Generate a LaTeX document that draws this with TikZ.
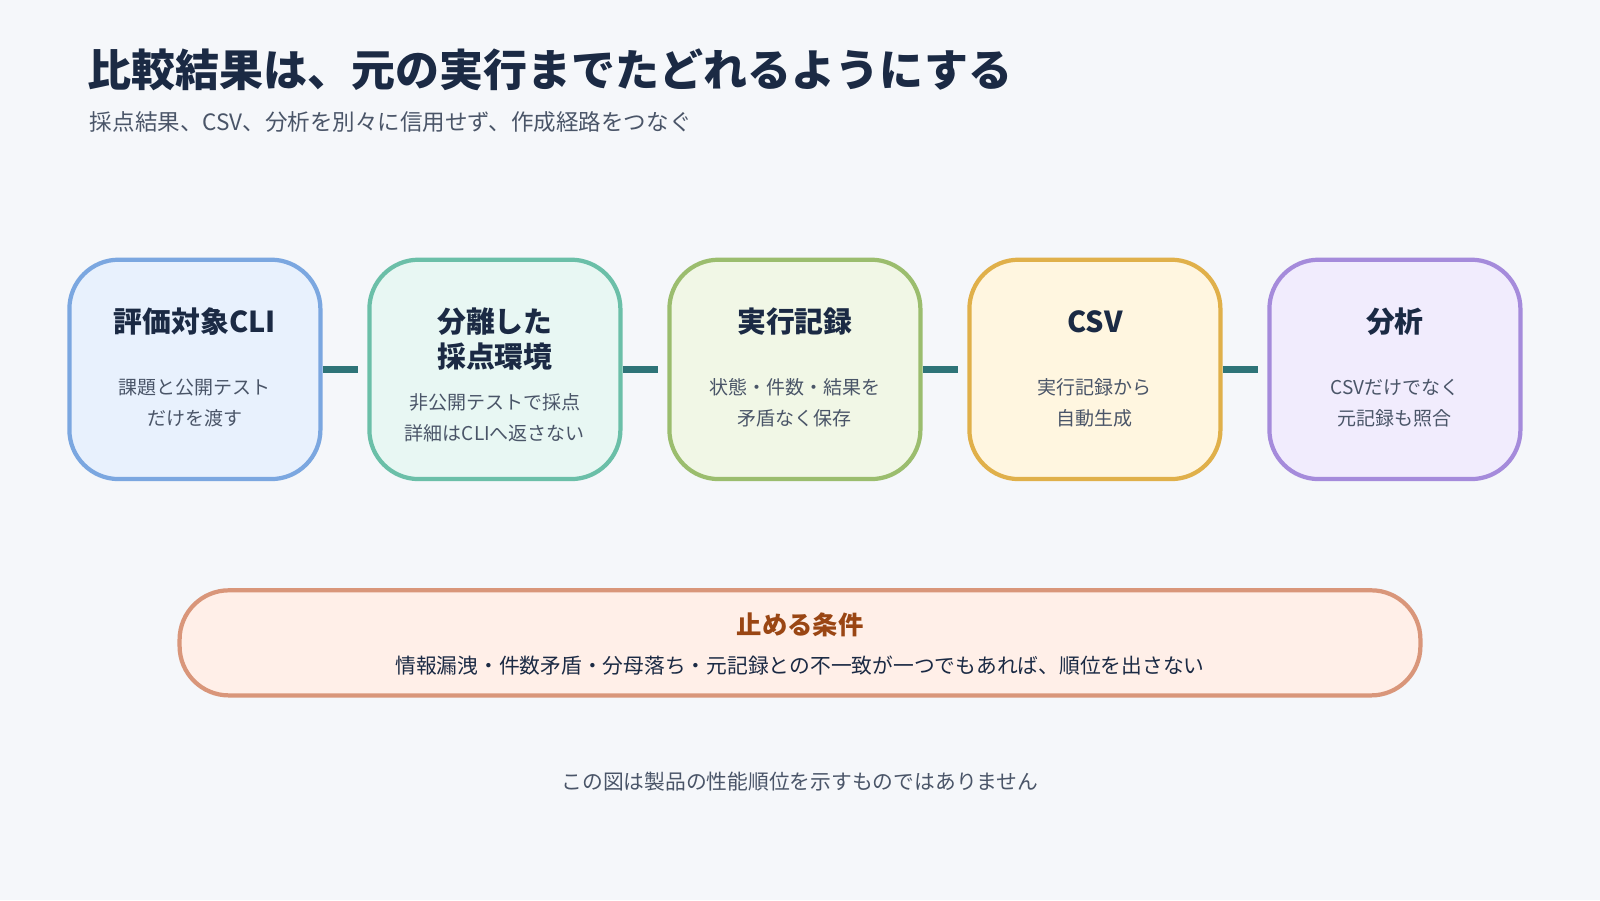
\documentclass[tikz,border=0pt]{standalone}
\usepackage{fontspec}
\setmainfont{Noto Sans CJK JP}
\usetikzlibrary{positioning,calc}
\definecolor{bgc}{HTML}{F5F7FA}
\definecolor{ink}{HTML}{1B2A44}
\definecolor{sub}{HTML}{4A5568}
\definecolor{link}{HTML}{2E7478}
\definecolor{fa}{HTML}{E8F1FD}\definecolor{da}{HTML}{7BA7E0}
\definecolor{fb}{HTML}{E8F7F3}\definecolor{db}{HTML}{6BBFA8}
\definecolor{fc}{HTML}{F1F7E6}\definecolor{dc}{HTML}{9BBD6E}
\definecolor{fd}{HTML}{FFF6E0}\definecolor{dd}{HTML}{E0B04A}
\definecolor{fe}{HTML}{F1ECFD}\definecolor{de}{HTML}{A58BDB}
\definecolor{ff}{HTML}{FFEFE8}\definecolor{dff}{HTML}{D9967A}
\definecolor{warn}{HTML}{9A4614}
\begin{document}
\begin{tikzpicture} [x=0.0102cm, y=-0.0102cm,
        stage/.style = {draw, line width=1.2pt, rounded corners=14pt, minimum width=246*0.0102cm, minimum height=215*0.0102cm},
        head/.style = {font=\bfseries\fontsize{8.2}{10}\selectfont, text=ink, align=center},
        note/.style = {font=\fontsize{5.4}{8.8}\selectfont, text=sub, align=center},
        link/.style = {draw=link, line width=2.2pt}]
        \fill[bgc] (0,0) rectangle (1568,882);
        \useasboundingbox (0,0) rectangle (1568,882);
        \node[anchor=west, text=ink, font=\bfseries\fontsize{12.5}{14}\selectfont] (title) at (74,68) {比較結果は、元の実行までたどれるようにする};
        \node[anchor=west, text=sub, font=\fontsize{6.4}{8}\selectfont] (lead) at (76,120) {採点結果、CSV、分析を別々に信用せず、作成経路をつなぐ};
        % stages
        \node[stage, fill=fa, draw=da] (cli) at (191,362) {};
        \node[stage, fill=fb, draw=db] (grader) at (485,362) {};
        \node[stage, fill=fc, draw=dc] (log) at (779,362) {};
        \node[stage, fill=fd, draw=dd] (csv) at (1073,362) {};
        \node[stage, fill=fe, draw=de] (ana) at (1367,362) {};
        \node[head] at (191,315) {評価対象CLI};
        \node[note] at (191,395) {課題と公開テスト\\だけを渡す};
        \node[head] at (485,332) {分離した\\採点環境};
        \node[note] at (485,409) {非公開テストで採点\\詳細はCLIへ返さない};
        \node[head] at (779,315) {実行記録};
        \node[note] at (779,395) {状態・件数・結果を\\矛盾なく保存};
        \node[head] at (1073,315) {CSV};
        \node[note] at (1073,395) {実行記録から\\自動生成};
        \node[head] at (1367,315) {分析};
        \node[note] at (1367,395) {CSVだけでなく\\元記録も照合};
        \foreach \a/\b in {cli/grader, grader/log, log/csv, csv/ana} {
            \coordinate (\a-end) at ($(\a.east)+(35,0)$);
            \draw[link] (\a.east) -- (\a-end);
        }
        % stop conditions
        \node[draw=dff, fill=ff, line width=1.2pt, rounded corners=14pt, minimum width=1216*0.0102cm, minimum height=103*0.0102cm] (stop) at (784,630) {};
        \node[text=warn, font=\bfseries\fontsize{7.2}{9}\selectfont] at (784,612) {止める条件};
        \node[text=ink, font=\fontsize{5.9}{8}\selectfont] at (784,652) {情報漏洩・件数矛盾・分母落ち・元記録との不一致が一つでもあれば、順位を出さない};
        \node[text=sub, font=\fontsize{5.9}{8}\selectfont] (foot) at (784,766) {この図は製品の性能順位を示すものではありません};
    \end{tikzpicture}
\end{document}
